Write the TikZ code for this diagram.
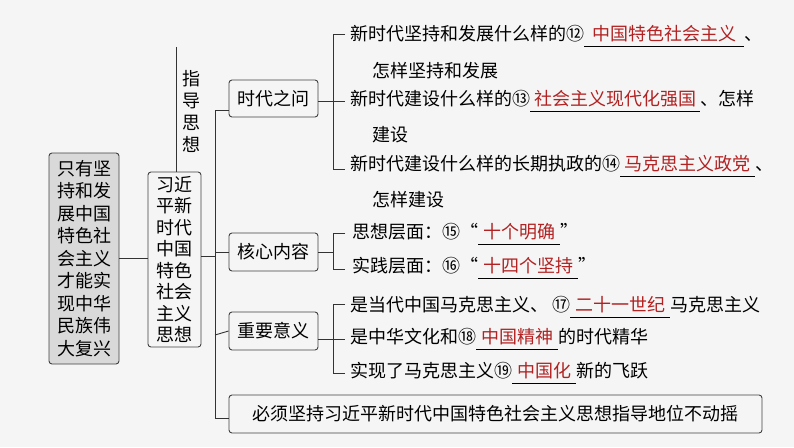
\documentclass[tikz,border=0pt]{standalone}
\usepackage{fontspec}
\setmainfont{Noto Sans CJK SC}
\definecolor{ans}{HTML}{B22222}
\newcommand{\blk}[2]{\rlap{\rule[-6pt]{#1pt}{0.7pt}}\makebox[#1pt]{\color{ans}#2}}
\begin{document}
\begin{tikzpicture}[x=1pt,y=-1pt,
  box/.style={draw=black!75,line width=0.9pt,rounded corners=3pt,fill=white!96!black,inner sep=0pt},
  ln/.style={line width=0.9pt,black!80},
  tx/.style={anchor=west,inner sep=0pt,font=\fontsize{18}{18}\selectfont}]
\fill[white!96!black] (0,0) rectangle (794,447);
\useasboundingbox (0,0) rectangle (794,447);
\node[box,fill=black!15,minimum width=70pt,minimum height=211pt,align=center,font=\fontsize{18}{22.5}\selectfont] (L) at (84,258.5) {只有坚\\持和发\\展中国\\特色社\\会主义\\才能实\\现中华\\民族伟\\大复兴};
\node[box,minimum width=53pt,minimum height=175pt,align=center,font=\fontsize{18}{21.5}\selectfont] (M) at (174.5,259.5) {习近\\平新\\时代\\中国\\特色\\社会\\主义\\思想};
\coordinate (T) at (176,47);
\draw[ln] (M.north -| T) -- (T);
\node[align=center,font=\fontsize{18}{22}\selectfont,inner sep=0pt] (zd) at (191,111) {指\\导\\思\\想};
\draw[ln] (L.east |- 0,258) -- (M.west |- 0,258);
\node[box,minimum width=89pt,minimum height=37pt,font=\fontsize{18}{18}\selectfont] (A) at (273.5,98.5) {时代之问};
\node[box,minimum width=89pt,minimum height=38pt,font=\fontsize{18}{18}\selectfont] (B) at (273.5,252) {核心内容};
\node[box,minimum width=89pt,minimum height=38pt,font=\fontsize{18}{18}\selectfont] (C) at (273.5,331) {重要意义};
\node[box,minimum width=533pt,minimum height=38pt,font=\fontsize{18}{18}\selectfont] (D) at (495.5,414) {必须坚持习近平新时代中国特色社会主义思想指导地位不动摇};
\coordinate (b0) at (215,256);
\draw[ln] (M.east |- b0) -- (b0);
\draw[ln] (A.west |- 0,110) -- (215,110) -- (215,418) -- (D.west |- 0,418);
\draw[ln] (215,252) -- (B.west);
\draw[ln] (215,335) -- (C.west);
% group 1
\draw[ln] (345,34) -- (333,34) -- (333,169) -- (345,169);
\draw[ln] (A.east |- 0,101) -- (345,101);
\node[tx] (r1) at (350,36) {新时代坚持和发展什么样的⑫\blk{160}{中国特色社会主义}、};
\node[tx] (r2) at (372,71) {怎样坚持和发展};
\node[tx] (r3) at (350,101) {新时代建设什么样的⑬\blk{170}{社会主义现代化强国}、怎样};
\node[tx] (r4) at (372,135) {建设};
\node[tx] (r5) at (350,166) {新时代建设什么样的长期执政的⑭\blk{135}{马克思主义政党}、};
\node[tx] (r6) at (372,200) {怎样建设};
% group 2
\draw[ln] (345,233) -- (333,233) -- (333,269) -- (345,269);
\draw[ln] (B.east) -- (333,252);
\node[tx] (s1) at (352,234) {思想层面：⑮“\blk{82}{十个明确}”};
\node[tx] (s2) at (352,268) {实践层面：⑯“\blk{100}{十四个坚持}”};
% group 3
\draw[ln] (345,304) -- (333,304) -- (333,373) -- (345,373);
\draw[ln] (C.east |- 0,339) -- (345,339);
\node[tx] (u1) at (350,307) {是当代中国马克思主义、 ⑰\blk{100}{二十一世纪}马克思主义};
\node[tx] (u2) at (350,339) {是中华文化和⑱\blk{82}{中国精神}的时代精华};
\node[tx] (u3) at (350,373) {实现了马克思主义⑲\blk{64}{中国化}新的飞跃};
\end{tikzpicture}
\end{document}
